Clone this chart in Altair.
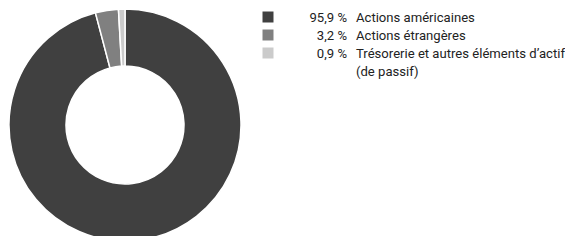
import altair as alt
import pandas as pd

categories = ["Actions américaines", "Actions étrangères", "Trésorerie et autres éléments d’actif\n(de passif)"]
values = [95.9, 3.2, 0.9]
pct_labels = ["95,9 %", "3,2 %", "0,9 %"]
colors = ["#404040", "#808080", "#cbcbcb"]

df = pd.DataFrame({
    "cat": categories,
    "value": values,
    "pct": pct_labels,
    "idx": list(range(len(categories))),
})

FONT = "Roboto"
FS = 13.1
color_scale = alt.Scale(domain=categories, range=colors)
yscale = alt.Scale(domain=[0, 3], range=[13.5, 67.5])

donut = alt.Chart(df).mark_arc(
    outerRadius=116, innerRadius=59, stroke="white", strokeWidth=1.5
).encode(
    theta=alt.Theta("value:Q", stack=True),
    order=alt.Order("idx:Q"),
    color=alt.Color("cat:N", scale=color_scale, legend=None),
    x=alt.value(117),
    y=alt.value(117),
)

squares = alt.Chart(df).mark_square(size=121, opacity=1).encode(
    x=alt.value(260),
    y=alt.Y("idx:Q", scale=yscale, axis=None),
    yOffset=alt.value(-4.5),
    color=alt.Color("cat:N", scale=color_scale, legend=None),
)

pct = alt.Chart(df).mark_text(
    align="right", baseline="alphabetic", font=FONT, fontSize=FS, color="#222222"
).encode(
    x=alt.value(339),
    y=alt.Y("idx:Q", scale=yscale, axis=None),
    text="pct:N",
)

labels = alt.Chart(df).mark_text(
    align="left", baseline="alphabetic", font=FONT, fontSize=FS, color="#222222",
    lineBreak="\n", lineHeight=18
).encode(
    x=alt.value(348),
    y=alt.Y("idx:Q", scale=yscale, axis=None),
    text="cat:N",
)

chart = alt.layer(donut, squares, pct, labels).properties(
    width=557, height=228, padding=0, autosize=alt.AutoSizeParams(type="none")
).configure_view(stroke=None)

chart.save("out.html", embed_options={"renderer": "svg", "actions": False})
